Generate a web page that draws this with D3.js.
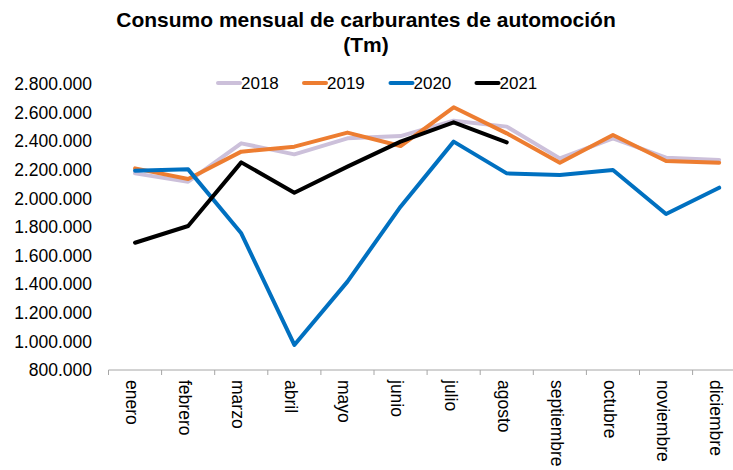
<!DOCTYPE html>
<html>
<head>
<meta charset="utf-8">
<script src="https://cdn.jsdelivr.net/npm/d3@7"></script>
<style>
  html, body { margin: 0; padding: 0; background: #fff; }
  svg { display: block; font-family: "Liberation Sans", Arial, sans-serif; }
</style>
</head>
<body>
<svg id="chart" width="733" height="470"></svg>
<script>
const months = ["enero","febrero","marzo","abril","mayo","junio","julio","agosto","septiembre","octubre","noviembre","diciembre"];
const yTicks = [800000,1000000,1200000,1400000,1600000,1800000,2000000,2200000,2400000,2600000,2800000];
const years = ["2018","2019","2020","2021"];
const colors = ["#CCC0DA","#ED7D31","#0070C0","#000000"];
const s2018 = [2175000,2117000,2385000,2308000,2420000,2436000,2543000,2502000,2280000,2420000,2285000,2269000];
const s2019 = [2210000,2136000,2327000,2362000,2460000,2366000,2637000,2455000,2250000,2443000,2262000,2250000];
const s2020 = [2194000,2203000,1756000,975000,1418000,1942000,2397000,2175000,2164000,2199000,1891000,2075000];
const s2021 = [1690000,1807000,2252000,2040000,2222000,2397000,2532000,2392000];
const seriesValues = [s2018, s2019, s2020, s2021];

const svg = d3.select("#chart");
const fontSize = 17.5;

const x = d3.scaleBand().domain(months).range([108.5, 108.5 + 12 * 53.1]).padding(0);
const y = d3.scaleLinear().domain([800000, 2800000]).range([370, 84]);

const loc = d3.formatLocale({decimal: ",", thousands: ".", grouping: [3], currency: ["", ""]});
const fmt = loc.format(",.0f");

// Title
svg.append("text").attr("x", 366).attr("y", 27).attr("text-anchor", "middle")
  .attr("font-size", 21).attr("font-weight", "bold").text("Consumo mensual de carburantes de automoción");
svg.append("text").attr("x", 366).attr("y", 52).attr("text-anchor", "middle")
  .attr("font-size", 21).attr("font-weight", "bold").text("(Tm)");

// Y axis labels (no line)
const yAxis = d3.axisLeft(y).tickValues(yTicks).tickFormat(fmt).tickSize(0).tickPadding(0);
const gy = svg.append("g").attr("transform", "translate(92,0)").call(yAxis);
gy.select(".domain").remove();
gy.selectAll("text").attr("font-size", fontSize).attr("fill", "#000").attr("font-family", "Liberation Sans, Arial, sans-serif");

// X axis
const gx = svg.append("g").attr("transform", "translate(0,370)");
gx.append("line").attr("x1", x.range()[0]).attr("x2", x.range()[1]).attr("y1", 0).attr("y2", 0)
  .attr("stroke", "#A6A6A6").attr("stroke-width", 1);
gx.selectAll("line.tick").data(months).join("line").attr("class", "tick")
  .attr("x1", d => x(d)).attr("x2", d => x(d)).attr("y1", 0).attr("y2", 5)
  .attr("stroke", "#A6A6A6").attr("stroke-width", 1);
gx.selectAll("text.lbl").data(months).join("text").attr("class", "lbl")
  .attr("transform", d => `translate(${x(d) + x.bandwidth() / 2 - 3},10) rotate(90)`)
  .attr("dy", "0.35em").attr("text-anchor", "start").attr("font-size", fontSize).text(d => d);

// Lines
const line = d3.line().x((d, i) => x(months[i]) + x.bandwidth() / 2).y(d => y(d));
seriesValues.forEach((vals, k) => {
  svg.append("path").datum(vals).attr("d", line).attr("fill", "none")
    .attr("stroke", colors[k]).attr("stroke-width", 4).attr("stroke-linejoin", "round").attr("stroke-linecap", "round");
});

// Legend
const legX = [218, 304, 390.5, 476.5];
years.forEach((yr, k) => {
  svg.append("line").attr("x1", legX[k]).attr("x2", legX[k] + 22).attr("y1", 83).attr("y2", 83)
    .attr("stroke", colors[k]).attr("stroke-width", 4).attr("stroke-linecap", "round");
  svg.append("text").attr("x", legX[k] + 23).attr("y", 83).attr("dy", "0.35em")
    .attr("font-size", 17).text(yr);
});
</script>
</body>
</html>
